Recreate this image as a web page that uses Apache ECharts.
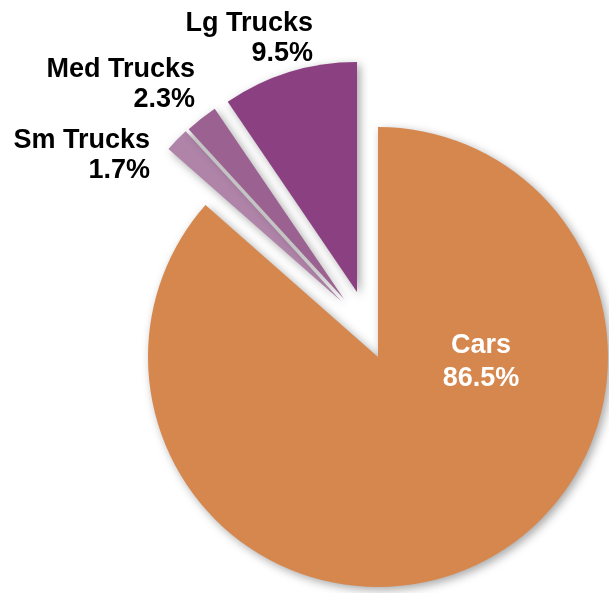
<!DOCTYPE html>
<html><head><meta charset="utf-8">
<script src="https://cdn.jsdelivr.net/npm/echarts@6/dist/echarts.min.js"></script>
<style>html,body{margin:0;padding:0;background:#fff}#c{width:609px;height:593px}</style>
</head><body><div id="c"></div>
<script>
const categories = ['Cars', 'Sm Trucks', 'Med Trucks', 'Lg Trucks'];
const shares = [86.5, 1.7, 2.3, 9.5];
const colors = ['#D6874E', '#B084A9', '#9B6291', '#8B4181'];

const centers = [[378, 357], [341, 301], [344, 299], [357, 292]];
const labelPos = [
  { x: 481, y: 329, align: 'center', verticalAlign: 'top', hideOverlap: false },
  { x: 150, y: 126, align: 'right', verticalAlign: 'top', hideOverlap: false },
  { x: 195, y: 55, align: 'right', verticalAlign: 'top', hideOverlap: false },
  { x: 313, y: 9, align: 'right', verticalAlign: 'top', hideOverlap: false }
];

const chart = echarts.init(document.getElementById('c'));
const series = categories.map((name, i) => ({
  type: 'pie',
  radius: 230,
  center: centers[i],
  startAngle: 90,
  clockwise: true,
  minAngle: 0,
  minShowLabelAngle: 0,
  avoidLabelOverlap: false,
  silent: true,
  animation: false,
  labelLine: { show: false },
  labelLayout: labelPos[i],
  data: categories.map((c, j) => ({
    name: c,
    value: shares[j],
    itemStyle: j === i ? {
      color: colors[j],
      shadowBlur: 10,
      shadowColor: 'rgba(0,0,0,0.35)',
      shadowOffsetX: 3,
      shadowOffsetY: 3
    } : { color: 'rgba(0,0,0,0)', borderWidth: 0 },
    label: j === i ? {
      show: true,
      position: 'outside',
      formatter: '{b}\n{c}%',
      fontFamily: '"Liberation Sans", Arial, sans-serif',
      fontWeight: 'bold',
      fontSize: 27,
      lineHeight: i === 0 ? 33 : 30,
      color: i === 0 ? '#ffffff' : '#000000'
    } : { show: false }
  }))
}));

chart.setOption({ backgroundColor: '#ffffff', series });
</script></body></html>
